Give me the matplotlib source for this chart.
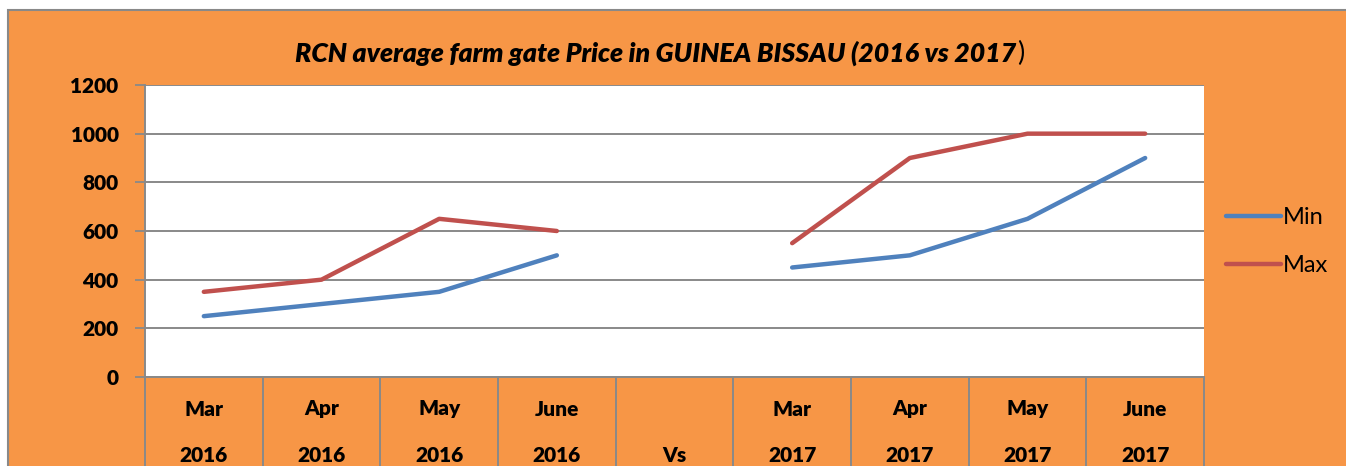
import matplotlib
matplotlib.use("Agg")
import matplotlib.pyplot as plt
import matplotlib.transforms as mtransforms
from matplotlib.patches import Rectangle
import numpy as np

months = ["Mar", "Apr", "May", "June", "", "Mar", "Apr", "May", "June"]
years = ["2016", "2016", "2016", "2016", "Vs", "2017", "2017", "2017", "2017"]
min_vals = [250, 300, 350, 500, np.nan, 450, 500, 650, 900]
max_vals = [350, 400, 650, 600, np.nan, 550, 900, 1000, 1000]
yticks = [0, 200, 400, 600, 800, 1000, 1200]
title_main = "RCN average farm gate Price in GUINEA BISSAU (2016 vs 2017"
title_end = ")"

ORANGE = "#F79646"
GRAY = "#898989"
FONT = "Lato"
LW_BOLD = "heavy"

W, H = 1346, 466
fig = plt.figure(figsize=(W / 100, H / 100), dpi=100)
fig.patch.set_facecolor("white")

# outer chart area
bg = Rectangle((8 / W, -0.1), 1.2, (H - 10) / H + 0.1,
               transform=fig.transFigure, facecolor=ORANGE,
               edgecolor=GRAY, linewidth=1.5, zorder=-10)
fig.patches.append(bg)

ax = fig.add_axes([145 / W, (H - 377) / H, (1204 - 145) / W, (377 - 85) / H])
ax.set_zorder(1)
ax.set_facecolor("white")
x = np.arange(len(months))
ax.plot(x, min_vals, color="#4F81BD", lw=3.2, solid_capstyle="round", label="Min", zorder=3)
ax.plot(x, max_vals, color="#C0504D", lw=3.2, solid_capstyle="round", label="Max", zorder=3)

ax.set_xlim(-0.5, len(months) - 0.5)
ax.set_ylim(0, 1200)
ax.set_yticks(yticks)
ax.set_yticklabels([str(v) for v in yticks], fontfamily=FONT, fontweight=LW_BOLD, fontsize=15)
ax.tick_params(axis="y", length=7, width=1.3, color=GRAY, pad=12)
ax.set_xticks([])
ax.grid(axis="y", color=GRAY, lw=1.4, zorder=1)
for s in ["top", "right", "bottom"]:
    ax.spines[s].set_visible(False)
ax.spines["left"].set_color(GRAY)
ax.spines["left"].set_linewidth(1.4)

# category separators and labels
trans = mtransforms.blended_transform_factory(ax.transData, ax.transAxes)
for b in np.arange(-0.5, len(months), 1.0):
    ax.plot([b, b], [0, -0.5], color=GRAY, lw=1.4, transform=trans, clip_on=False)
ax.plot([-0.5, len(months) - 0.5], [0, 0], color=GRAY, lw=1.4, transform=trans, clip_on=False)
for i, (m, yv) in enumerate(zip(months, years)):
    ax.text(i, -32 / 292, m, transform=trans, ha="center", va="center",
            fontfamily=FONT, fontweight=LW_BOLD, fontsize=15)
    ax.text(i, -78 / 292, yv, transform=trans, ha="center", va="center",
            fontfamily=FONT, fontweight=LW_BOLD, fontsize=15)

# title
fig.text(1016 / W, 1 - 53 / H, title_main, ha="right", va="center", fontfamily=FONT,
         fontweight=LW_BOLD, fontstyle="italic", fontsize=19.2)
fig.text(1017 / W, 1 - 53 / H, title_end, ha="left", va="center", fontfamily=FONT,
         fontsize=19.2)

leg = fig.legend(loc="upper left", bbox_to_anchor=(1205 / W, 1 - 186 / H), frameon=False,
                 prop={"family": FONT, "size": 17}, handlelength=2.3, handletextpad=0.1,
                 labelspacing=1.15)

fig.savefig("out.png", dpi=100, facecolor=fig.get_facecolor())
